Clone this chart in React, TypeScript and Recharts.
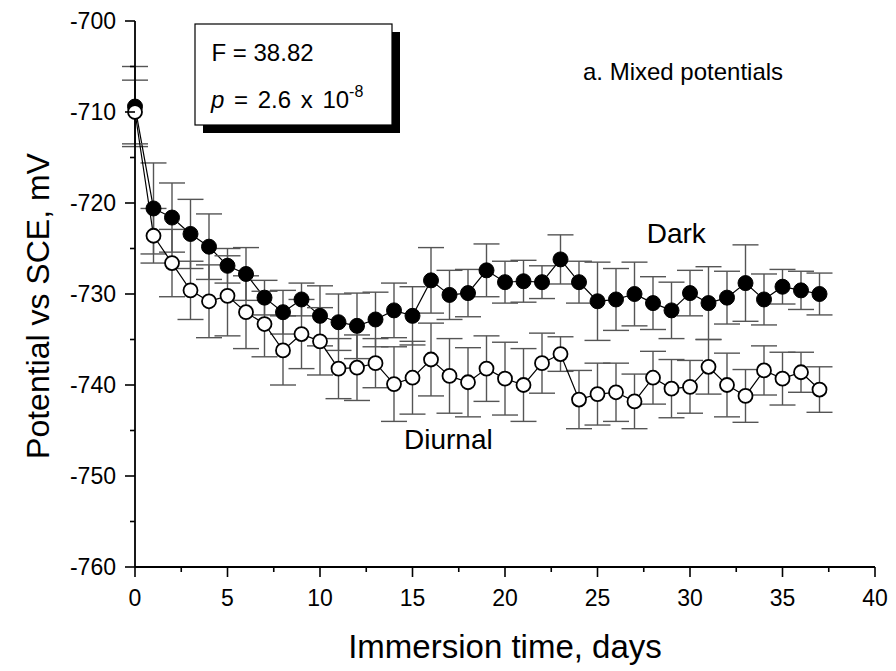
import React from "react";
import { ComposedChart, Line, XAxis, YAxis, ErrorBar } from "recharts";

const days = [
  0, 1, 2, 3, 4, 5, 6, 7, 8, 9, 10, 11, 12, 13, 14, 15, 16, 17, 18, 19, 20,
  21, 22, 23, 24, 25, 26, 27, 28, 29, 30, 31, 32, 33, 34, 35, 36, 37,
];
const darkMean = [
  -709.4, -720.6, -721.6, -723.4, -724.8, -726.9, -727.8, -730.4, -732.0,
  -730.6, -732.4, -733.1, -733.5, -732.8, -731.8, -732.4, -728.5, -730.1,
  -729.9, -727.4, -728.7, -728.6, -728.7, -726.2, -728.7, -730.8, -730.6,
  -730.0, -731.0, -731.8, -729.9, -731.0, -730.4, -728.8, -730.6, -729.2,
  -729.6, -730.0,
];
const darkErr = [
  4.4, 5.0, 3.8, 3.8, 3.6, 1.9, 2.9, 1.9, 2.4, 1.8, 3.3, 3.1, 3.6, 3.0, 3.0,
  3.2, 3.6, 2.7, 2.6, 2.9, 2.3, 2.3, 1.8, 2.7, 2.3, 4.3, 3.4, 3.5, 2.9, 3.1,
  2.5, 4.0, 2.9, 4.2, 2.8, 1.9, 2.1, 2.3,
];
const diurnalMean = [
  -710.0, -723.6, -726.6, -729.6, -730.8, -730.2, -732.0, -733.3, -736.2,
  -734.4, -735.2, -738.2, -738.1, -737.6, -739.9, -739.2, -737.2, -739.0,
  -739.7, -738.2, -739.3, -740.0, -737.6, -736.6, -741.6, -741.0, -740.8,
  -741.8, -739.2, -740.4, -740.2, -738.0, -740.0, -741.2, -738.4, -739.3,
  -738.6, -740.5,
];
const diurnalErr = [
  3.5, 3.0, 3.7, 3.2, 4.0, 4.4, 4.0, 3.6, 3.8, 3.8, 3.7, 3.3, 3.6, 2.7, 4.1,
  4.0, 4.0, 4.1, 3.8, 3.6, 4.0, 4.0, 3.3, 1.9, 3.2, 3.4, 3.2, 3.0, 2.9, 3.2,
  2.9, 3.0, 3.5, 2.9, 2.7, 2.9, 2.2, 2.5,
];
const xTicks = [
  0, 2.5, 5, 7.5, 10, 12.5, 15, 17.5, 20, 22.5, 25, 27.5, 30, 32.5, 35, 37.5,
  40,
];
const yTicks = [-760, -755, -750, -745, -740, -735, -730, -725, -720, -715, -710, -705, -700];

const data = days.map((d, i) => ({
  day: d,
  dark: darkMean[i],
  darkErr: darkErr[i],
  diurnal: diurnalMean[i],
  diurnalErr: diurnalErr[i],
}));

const FONT = "'Liberation Sans', Arial, Helvetica, sans-serif";

const XTick = (props: any) => {
  const { x, y, payload } = props;
  const v = payload.value;
  const major = v % 5 === 0;
  return (
    <g>
      <line x1={x} x2={x} y1={y} y2={y + (major ? 10 : 5)} stroke="#000" strokeWidth={1.6} />
      {major && (
        <text x={x} y={y + 39} textAnchor="middle" fontSize={23} fontFamily={FONT} fill="#000">
          {v}
        </text>
      )}
    </g>
  );
};

const YTick = (props: any) => {
  const { x, y, payload } = props;
  const v = payload.value;
  const major = v % 10 === 0;
  return (
    <g>
      <line x1={x - (major ? 10 : 5)} x2={x} y1={y} y2={y} stroke="#000" strokeWidth={1.6} />
      {major && (
        <text x={x - 19} y={y} dy="0.36em" textAnchor="end" fontSize={23} fontFamily={FONT} fill="#000">
          {v}
        </text>
      )}
    </g>
  );
};

export default function App() {
  const W = 880;
  const H = 663;
  return (
    <div style={{ position: "relative", width: W, height: H }}>
      <ComposedChart
        width={W}
        height={H}
        data={data}
        margin={{ top: 13, right: 13, bottom: 59, left: 67 }}
      >
        <XAxis
          dataKey="day"
          type="number"
          domain={[0, 40]}
          ticks={xTicks}
          interval={0}
          tickSize={0}
          tickMargin={0}
          tickLine={false}
          tick={<XTick />}
          height={45}
          axisLine={{ stroke: "#000", strokeWidth: 1.8 }}
        />
        <YAxis
          type="number"
          domain={[-760, -700]}
          ticks={yTicks}
          interval={0}
          tickSize={0}
          tickMargin={0}
          tickLine={false}
          tick={<YTick />}
          width={60}
          axisLine={{ stroke: "#000", strokeWidth: 1.8 }}
        />
        <Line
          dataKey="dark"
          stroke="#000"
          strokeWidth={1.2}
          isAnimationActive={false}
          dot={{ r: 7.5, fill: "#000", stroke: "#000", strokeWidth: 1 }}
          activeDot={false}
        >
          <ErrorBar dataKey="darkErr" direction="y" width={13} stroke="#555" strokeWidth={1.4} />
        </Line>
        <Line
          dataKey="diurnal"
          stroke="#000"
          strokeWidth={1.2}
          isAnimationActive={false}
          dot={{ r: 7, fill: "#fff", stroke: "#000", strokeWidth: 1.8 }}
          activeDot={false}
        >
          <ErrorBar dataKey="diurnalErr" direction="y" width={13} stroke="#555" strokeWidth={1.4} />
        </Line>
      </ComposedChart>
      <svg
        width={W}
        height={H}
        style={{ position: "absolute", left: 0, top: 0, pointerEvents: "none" }}
        fontFamily={FONT}
      >
        <text
          x={29}
          y={298}
          transform="rotate(-90, 29, 298)"
          textAnchor="middle"
          dy="0.36em"
          fontSize={32}
          fill="#000"
        >
          Potential vs SCE, mV
        </text>
        <text x={497} y={650} textAnchor="middle" fontSize={33} fill="#000">
          Immersion time, days
        </text>
        <rect x={195} y={24} width={197} height={101} fill="#000" />
        <rect x={187} y={16} width={197} height={101} fill="#fff" stroke="#000" strokeWidth={1.2} />
        <text x={203.5} y={52.7} fontSize={24} fill="#000">
          F = 38.82
        </text>
        <text x={203} y={100} fontSize={24} fill="#000" wordSpacing={3}>
          <tspan fontStyle="italic">p</tspan>
          <tspan> = 2.6 x 10</tspan>
          <tspan fontSize={16} dy={-11}>-8</tspan>
        </text>
        <text x={575} y={72} fontSize={24} fill="#000">
          a. Mixed potentials
        </text>
        <text x={638.7} y={235} fontSize={28} fill="#000">
          Dark
        </text>
        <text x={396} y={441} fontSize={28} fill="#000">
          Diurnal
        </text>
      </svg>
    </div>
  );
}
